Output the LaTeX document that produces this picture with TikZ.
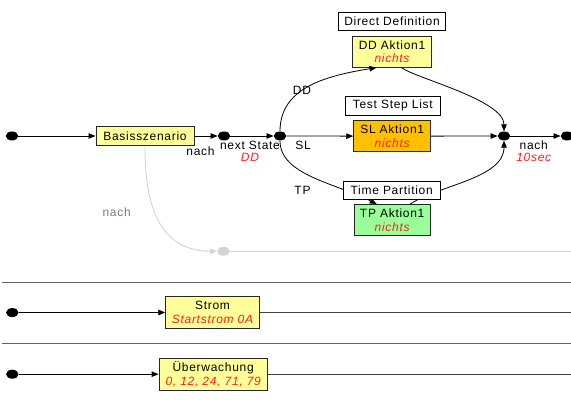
\documentclass[tikz,border=0pt]{standalone}
\usepackage{fontspec}
\setmainfont{Liberation Sans}[LetterSpace=6]
\usetikzlibrary{arrows.meta,shapes.geometric}
\definecolor{tred}{HTML}{FF2020}
\definecolor{yel}{HTML}{FFFF99}
\definecolor{org}{HTML}{FFC000}
\definecolor{grn}{HTML}{99FF99}
\definecolor{lgray}{HTML}{D4D4D4}
\definecolor{mgray}{HTML}{7A7A7A}
\definecolor{sepgray}{HTML}{606060}
\newcommand\redit[1]{{\color{tred}\itshape #1}}
\begin{document}
\begin{tikzpicture}[x=1pt,y=1pt,
  font=\fontsize{12}{13.3}\selectfont,
  >={Triangle[length=7pt,width=5.5pt]},
  dotn/.style={ellipse,fill=black,inner sep=0pt,minimum width=12.5pt,minimum height=9pt},
  gdot/.style={ellipse,fill=lgray,inner sep=0pt,minimum width=12.5pt,minimum height=9pt},
  statebox/.style={draw=black!85,line width=0.9pt,inner sep=0pt,align=center},
  lblbox/.style={draw=black,fill=white,line width=0.8pt,inner sep=0pt,minimum height=18.5pt},
  txt/.style={inner sep=0pt,align=center,font=\fontsize{12}{12}\selectfont},
  conn/.style={->,line width=0.8pt},
  sepline/.style={sepgray,line width=1.1pt},
  rowline/.style={black!75,line width=1pt}
]
\useasboundingbox (0,0) rectangle (571,406);

% row 1 nodes
\node[dotn] (d1) at (12,270) {};
\node[statebox,fill=yel,minimum width=98pt,minimum height=19pt] (base) at (145,270) {Basisszenario};
\node[dotn] (d2) at (224,270) {};
\node[dotn] (d3) at (280,270) {};
\node[statebox,fill=yel,minimum width=79pt,minimum height=31pt] (dd) at (392,354.3) {DD Aktion1\\\redit{nichts}};
\node[statebox,fill=org,minimum width=77pt,minimum height=31pt] (sl) at (392.2,269.8) {SL Aktion1\\\redit{nichts}};
\node[statebox,fill=grn,minimum width=76pt,minimum height=31.5pt] (tp) at (392.2,185.8) {TP Aktion1\\\redit{nichts}};
\node[dotn] (d4) at (504,270) {};
\node[dotn] (d5) at (567,270) {};
\node[gdot] (gd) at (223.5,154.7) {};
\coordinate (ge) at (571,154.7);

% row 1 connectors
\draw[conn] (d1) -- (base);
\draw[conn] (base) -- (d2);
\draw[conn] (d2) -- (d3);
\draw[conn] (d3) -- (sl);
\draw[conn] (sl) -- (d4);
\draw[conn] (d4) -- (d5);
\draw[conn] (d3.north) .. controls (280,318) and (325,330) .. ([xshift=-15.5pt]dd.south);
\draw[conn] ([xshift=9.5pt]dd.south) .. controls (415,328) and (504,306) .. (d4.north);
\draw[conn] (d3.south) .. controls (280,231) and (335,223) .. ([xshift=-15.5pt]tp.north);
\draw[conn] ([xshift=18pt]tp.north) .. controls (440,221) and (504,228) .. (d4.south);
\draw[->,lgray,line width=0.9pt] (base.south) .. controls (144.5,191) and (165,155) .. (gd.west);
\draw[lgray,line width=1pt] (gd) -- (ge);

% labels of the states
\node[lblbox,minimum width=107pt] (ddl) at (392,384.5) {Direct Definition};
\node[lblbox,minimum width=94.5pt] (tsl) at (392.8,300.2) {Test Step List};
\node[lblbox,minimum width=96.5pt] (tpl) at (391.7,215.8) {Time Partition};

% connector labels
\node[txt] (n1) at (200.5,254.3) {nach};
\node[txt] (ns) at (250,254.2) {next State\\\redit{DD}};
\node[txt] (ldd) at (302,315.7) {DD};
\node[txt] (lsl) at (303,260.3) {SL};
\node[txt] (ltp) at (302.5,215.3) {TP};
\node[txt] (n2) at (533.8,254.3) {nach\\\redit{10sec}};
\node[txt,text=mgray] (n3) at (116.7,193.7) {nach};

% separators
\coordinate (s1a) at (2,123.7);
\coordinate (s1b) at (571,123.7);
\coordinate (s2a) at (2,62.7);
\coordinate (s2b) at (571,62.7);
\draw[sepline] (s1a) -- (s1b);
\draw[sepline] (s2a) -- (s2b);

% row 2
\node[dotn] (r2d) at (12.3,93.4) {};
\node[statebox,fill=yel,minimum width=93.6pt,minimum height=31.6pt] (strom) at (212.5,93.5) {Strom\\\redit{Startstrom 0A}};
\coordinate (r2e) at (571,93.5);
\draw[conn] (r2d) -- (strom);
\draw[rowline] (strom) -- (r2e);

% row 3
\node[dotn] (r3d) at (12.3,31.8) {};
\node[statebox,fill=yel,minimum width=108.3pt,minimum height=31.7pt] (ueb) at (213.2,31.8) {Überwachung\\\redit{0, 12, 24, 71, 79}};
\coordinate (r3e) at (571,31.8);
\draw[conn] (r3d) -- (ueb);
\draw[rowline] (ueb) -- (r3e);
\end{tikzpicture}
\end{document}
